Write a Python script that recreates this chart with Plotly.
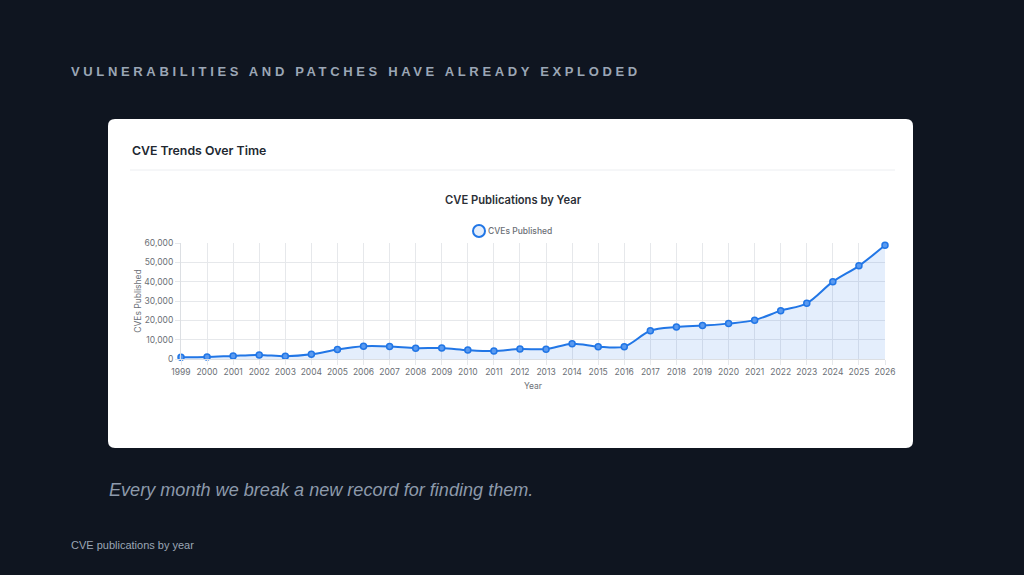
import plotly.graph_objects as go

# CVE counts per year
years = list(range(1999, 2027))
cves_published = [
    900, 1000, 1600, 2100, 1400, 2400, 4900, 6600, 6500, 5600,
    5700, 4600, 4100, 5200, 5100, 7900, 6400, 6400, 14600, 16500,
    17300, 18300, 20100, 25000, 28800, 40000, 48200, 58800,
]
y_ticks = [0, 10000, 20000, 30000, 40000, 50000, 60000]

W, H = 1024, 575
BG = "#0f1520"
BLUE = "#2176e6"
FILL = "rgba(33,118,230,0.12)"
GRID = "#e6e8eb"


def px_x(v):
    return v / W


def px_y(v):
    return 1 - v / H


fig = go.Figure()

fig.add_trace(go.Scatter(
    x=years,
    y=cves_published,
    mode="lines+markers",
    line=dict(color=BLUE, width=2, shape="spline", smoothing=0.9),
    marker=dict(size=6, color="#5a9af0", line=dict(color=BLUE, width=1.5)),
    fill="tozeroy",
    fillcolor=FILL,
    name="CVEs Published",
    showlegend=False,
    cliponaxis=False,
))

# legend-only entry (chart.js style circle)
fig.add_trace(go.Scatter(
    x=[None], y=[None],
    mode="markers",
    marker=dict(size=12, color=FILL, line=dict(color=BLUE, width=2)),
    name="CVEs Published",
))

# white rounded card
x0, x1, y0, y1, r = px_x(108), px_x(913), px_y(119), px_y(448), 7
rx, ry = r / W, r / H
card = (
    f"M {x0 + rx},{y0} L {x1 - rx},{y0} Q {x1},{y0} {x1},{y0 - ry} "
    f"L {x1},{y1 + ry} Q {x1},{y1} {x1 - rx},{y1} "
    f"L {x0 + rx},{y1} Q {x0},{y1} {x0},{y1 + ry} "
    f"L {x0},{y0 - ry} Q {x0},{y0} {x0 + rx},{y0} Z"
)
fig.add_shape(type="path", path=card, xref="paper", yref="paper",
              fillcolor="white", line=dict(width=0), layer="below")
# divider under card header
fig.add_shape(type="line", xref="paper", yref="paper",
              x0=px_x(130), x1=px_x(895), y0=px_y(170), y1=px_y(170),
              line=dict(color="#eceef1", width=1), layer="below")

annots = [
    dict(text="VULNERABILITIES AND PATCHES HAVE ALREADY EXPLODED",
         x=69, y=71, xanchor="left",
         font=dict(family="Liberation Sans, Arial", size=13, weight=700,
                   color="#9ba6b5")),
    dict(text="CVE Trends Over Time", x=130, y=150, xanchor="left",
         font=dict(family="Inter", size=12.3, weight=600, color="#222831")),
    dict(text="CVE Publications by Year", x=513, y=200, xanchor="center",
         font=dict(family="Inter", size=11.2, weight=600, color="#2b2f36")),
    dict(text="Every month we break a new record for finding them.",
         x=107, y=490, xanchor="left",
         font=dict(family="Liberation Sans, Arial", size=18.1, style="italic",
                   color="#8d9aab")),
    dict(text="CVE publications by year", x=69, y=545, xanchor="left",
         font=dict(family="Liberation Sans, Arial", size=11, color="#9ba6b5")),
]
for a in annots:
    fig.add_annotation(text=a["text"], x=px_x(a["x"]), y=px_y(a["y"]),
                       xref="paper", yref="paper", xanchor=a["xanchor"],
                       yanchor="middle", showarrow=False, font=a["font"])

fig.update_xaxes(
    domain=[px_x(181), px_x(885)],
    range=[1999, 2026],
    tickmode="array", tickvals=years, ticktext=[str(y) for y in years],
    showgrid=True, gridcolor=GRID, gridwidth=1,
    ticks="outside", ticklen=5, tickcolor=GRID,
    showline=True, linecolor="#dcdfe3",
    tickfont=dict(family="Inter", size=8.5, color="#6b6f76"),
    title=dict(text="Year", standoff=6,
               font=dict(family="Inter", size=8.5, color="#6b6f76")),
    zeroline=False,
)
fig.update_yaxes(
    domain=[px_y(359), px_y(243)],
    range=[0, 60000],
    tickmode="array", tickvals=y_ticks, tickformat=",",
    showgrid=True, gridcolor=GRID, gridwidth=1,
    ticks="outside", ticklen=5, tickcolor=GRID,
    showline=True, linecolor="#dcdfe3",
    tickfont=dict(family="Inter", size=8.5, color="#6b6f76"),
    title=dict(text="CVEs Published", standoff=1,
               font=dict(family="Inter", size=8.5, color="#6b6f76")),
    zeroline=False,
)

fig.update_layout(
    width=W, height=H,
    margin=dict(l=0, r=0, t=0, b=0, pad=0, autoexpand=False),
    paper_bgcolor=BG,
    plot_bgcolor="white",
    showlegend=True,
    legend=dict(orientation="h", x=px_x(514), y=px_y(231),
                xanchor="center", yanchor="middle",
                bgcolor="rgba(0,0,0,0)",
                font=dict(family="Inter", size=8.5, weight=500, color="#6b6f76"),
                itemwidth=30),
)

# page without body margin, letter-spaced heading, tighter legend label
page_js = """
document.body.style.margin = '0';
document.body.style.overflow = 'hidden';
var gd = document.getElementById('{plot_id}');
function tidy() {
  gd.querySelectorAll('text.annotation-text').forEach(function(t) {
    if (t.textContent.indexOf('VULNERABILITIES') === 0) {
      var before = t.getBBox().x;
      t.style.letterSpacing = '3.65px';
      var after = t.getBBox().x;
      t.setAttribute('x', parseFloat(t.getAttribute('x') || 0) + (before - after));
    }
  });
  gd.querySelectorAll('text.legendtext').forEach(function(t) {
    t.setAttribute('x', parseFloat(t.getAttribute('x') || 40) - 11);
  });
}
Plotly.relayout(gd, {width: 1024, height: 575}).then(tidy);
"""
fig.write_html("out.html", post_script=page_js,
               config={"displayModeBar": False})
